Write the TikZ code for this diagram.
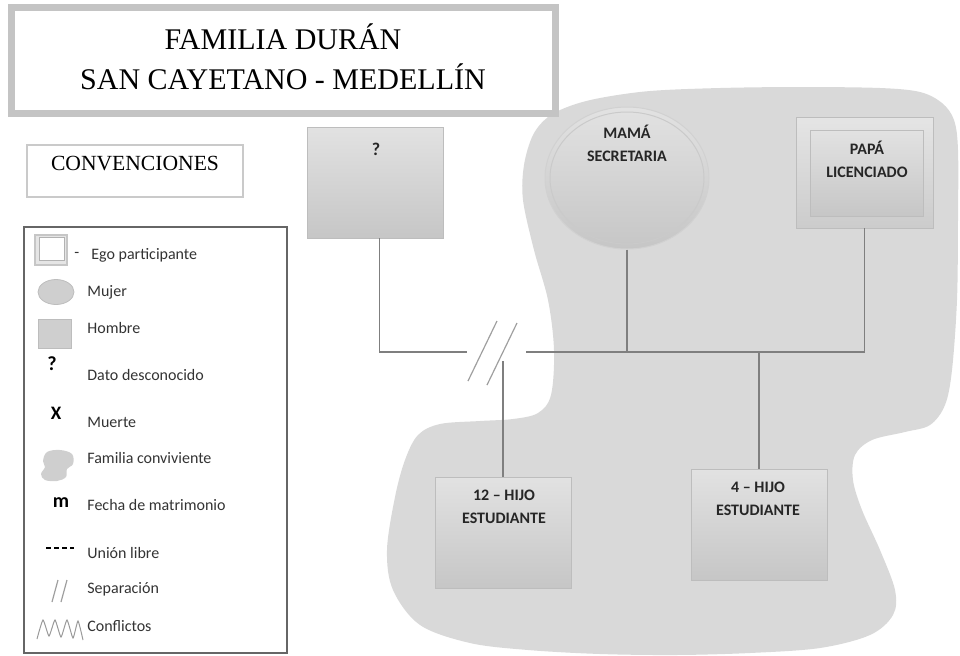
\documentclass[tikz,border=0pt]{standalone}
\usepackage{fontspec}
\setmainfont{Liberation Serif}
\newfontfamily\calibri{Carlito}
\usetikzlibrary{shapes.geometric}
\definecolor{relleno}{HTML}{D9D9D9}
\definecolor{claro}{HTML}{E2E2E2}
\definecolor{oscuro}{HTML}{C6C6C6}
\definecolor{borde}{HTML}{BDBDBD}
\definecolor{linea}{HTML}{7F7F7F}
\tikzset{
every picture/.style={x=0.5pt,y=-0.5pt}
}
\tikzset{
  hombre/.style={rectangle, draw=borde, line width=0.4pt, top color=claro, bottom color=oscuro,
    minimum width=68pt, minimum height=55.5pt, inner sep=0pt},
  mujer/.style={ellipse, draw=borde!70, line width=0.5pt, top color=claro, bottom color=oscuro,
    minimum width=82pt, minimum height=71pt, inner sep=0pt},
  rotulo/.style={font=\calibri\bfseries\fontsize{8}{11.5}\selectfont, align=center, text=black!85},
  leyenda/.style={font=\calibri\fontsize{8}{9}\selectfont, anchor=west, inner sep=0pt, text=black!80},
  simbolo/.style={font=\calibri\bfseries\fontsize{10}{10}\selectfont, inner sep=0pt},
  union/.style={draw=linea, line width=0.8pt},
  corte/.style={draw=gray!75, line width=0.6pt}
}

\begin{document}
\begin{tikzpicture}
  \useasboundingbox (0,0) rectangle (960,655);
  \fill[relleno] plot[smooth cycle, tension=0.55] coordinates {
    (523,200) (524,165) (533,135) (548,117) (570,106) (600,98) (650,91) (720,88)
    (800,87) (880,88) (920,92) (942,103) (954,120) (958,150) (958,220) (957,300)
    (952,370) (945,405) (930,425) (905,432) (872,440) (855,455) (853,480) (862,510)
    (880,550) (895,590) (893,615) (870,635) (820,648) (750,653) (676,655) (600,654)
    (528,650) (470,643) (420,625) (393,590) (387,550) (395,497) (405,460) (418,435)
    (440,424) (480,421) (513,419) (538,413) (551,395) (554,350) (548,300) (534,250)};

  \node[draw=borde!90, line width=3.5pt, fill=white, minimum width=272pt, minimum height=53pt] (titulo) at (283.5,60) {};
  \node[align=center, font=\fontsize{15}{20}\selectfont] (tituloT) at (283,57) {FAMILIA DURÁN\\SAN CAYETANO - MEDELLÍN};

  \node[draw=borde!80, line width=0.8pt, minimum width=108pt, minimum height=26pt] (conv) at (135,171) {};
  \node[font=\fontsize{10.8}{12}\selectfont] (convT) at (135,164) {CONVENCIONES};

  \node[draw=black!60, line width=0.6pt, minimum width=131.5pt, minimum height=213pt] (cuadro) at (155.5,440) {};
  \node[draw=gray!45, fill=gray!20, line width=0.6pt, minimum width=16pt, minimum height=15pt] (egoA) at (51,250) {};
  \node[draw=gray!60, fill=white, line width=0.4pt, minimum width=12.5pt, minimum height=11.5pt] (egoB) at (52,249) {};
  \node[leyenda] (guion) at (74,255) {-};
  \node[leyenda] (ego) at (91,255) {Ego participante};
  \node[ellipse, draw=borde, fill=oscuro!85, minimum width=18pt, minimum height=12.5pt, inner sep=0pt] (mujerL) at (56,292) {};
  \node[rectangle, draw=borde, fill=oscuro!85, minimum width=16.5pt, minimum height=14.5pt, inner sep=0pt] (hombreL) at (54.5,333.5) {};
  \node[simbolo] (pregL) at (52,364) {?};
  \node[simbolo, font=\calibri\bfseries\fontsize{9.5}{10}\selectfont] (muerteL) at (56,413) {X};
  \node[simbolo] (matL) at (61,503) {m};
  \fill[oscuro!85] plot[smooth cycle, tension=0.6] coordinates {
    (43,461) (47,452) (60,450) (72,454) (73,464) (67,469) (66,477) (57,481) (45,480) (41,474) (45,467)};
  \coordinate (libreA) at (46,548);
  \coordinate (libreB) at (74,548);
  \draw[black, line width=1pt, dash pattern=on 2.6pt off 1.4pt] (libreA) -- (libreB);
  \coordinate (sepA1) at (52,602); \coordinate (sepA2) at (58,580);
  \coordinate (sepB1) at (61,602); \coordinate (sepB2) at (67,580);
  \draw[corte] (sepA1) -- (sepA2);
  \draw[corte] (sepB1) -- (sepB2);
  \draw[gray!80, line width=0.5pt] plot[smooth, tension=0.3] coordinates {
    (37,639) (43,620) (49,636) (55,620) (61,637) (67,620) (73,638) (78,621) (83,640)};
  \foreach \texto/\y [count=\i] in {Mujer/292, Hombre/328, Dato desconocido/375, Muerte/422,
      Familia conviviente/458, Fecha de matrimonio/505, Unión libre/553, Separación/589, Conflictos/626}
    \node[leyenda] (ley\i) at (87,\y) {\texto};

  \node[hombre] (desc) at (375.5,182.5) {};
  \node[rotulo, font=\calibri\bfseries\fontsize{9}{10}\selectfont] (descT) at (376,149) {?};

  \node[mujer] (mama) at (627,178) {};
  \draw[draw=borde!80, line width=0.5pt] (mama.center) ellipse [x radius=38.5pt, y radius=33pt];
  \node[rotulo] (mamaT) at (627,143.5) {MAMÁ\\SECRETARIA};

  \node[rectangle, draw=borde, line width=0.4pt, top color=claro!90, bottom color=oscuro!90,
    minimum width=68.5pt, minimum height=55.5pt, inner sep=0pt] (papa) at (864.5,172.5) {};
  \node[hombre, minimum width=56.5pt, minimum height=43pt] (papaIn) at (866.5,173) {};
  \node[rotulo] (papaT) at (867,159.5) {PAPÁ\\LICENCIADO};

  \node[hombre] (hijoA) at (503,532.5) {};
  \node[rotulo] (hijoAT) at (504,506.5) {12 – HIJO\\ESTUDIANTE};
  \node[hombre] (hijoB) at (759,524.5) {};
  \node[rotulo] (hijoBT) at (758,499) {4 – HIJO\\ESTUDIANTE};

  \coordinate (cortaIzq) at (467,352);
  \coordinate (cortaDer) at (526,352);
  \coordinate (hijoAarriba) at (503,361);
  \draw[union] ([xshift=2pt]desc.south) |- (cortaIzq);
  \draw[union] (cortaDer) -| (papa.south);
  \draw[union] (mama.south) -- (mama.south |- cortaDer);
  \draw[union] (hijoB.north) -- (hijoB.north |- cortaDer);
  \draw[union] (hijoAarriba) -- (hijoA.north);
  \coordinate (corte1a) at (468,381); \coordinate (corte1b) at (497,321);
  \coordinate (corte2a) at (487,385); \coordinate (corte2b) at (517,323);
  \draw[corte] (corte1a) -- (corte1b);
  \draw[corte] (corte2a) -- (corte2b);
\end{tikzpicture}
\end{document}
